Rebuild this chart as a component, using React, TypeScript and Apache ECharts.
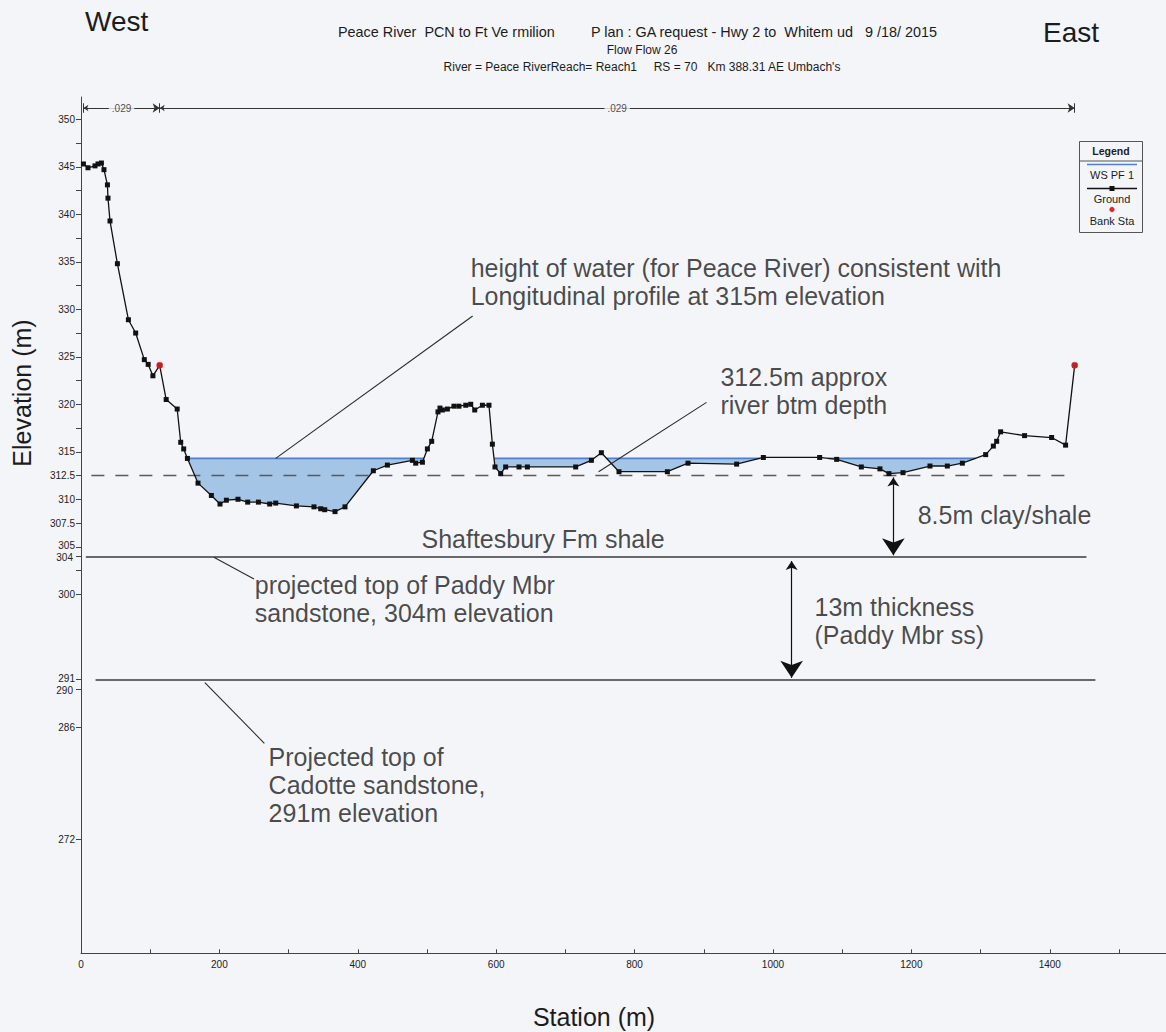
import React, { useEffect, useRef } from "react";
import * as echarts from "echarts";

// ---------- data ----------
const groundStation = [3.5, 10.1, 20.2, 24.6, 29.5, 33.2, 38.2, 39.0, 41.9, 52.6, 68.5, 79.0, 91.5, 97.1, 103.9, 113.7, 123.1, 139.0, 144.1, 148.4, 153.8, 169.1, 188.4, 200.9, 210.1, 226.9, 240.9, 256.4, 272.7, 281.4, 311.3, 336.7, 346.4, 352.2, 367.1, 381.5, 422.5, 442.8, 478.9, 483.7, 493.4, 500.6, 506.8, 515.9, 518.8, 522.3, 529.5, 539.0, 546.2, 556.0, 563.2, 569.0, 580.1, 589.6, 594.5, 598.3, 606.5, 613.7, 633.0, 645.1, 714.9, 737.6, 752.0, 777.5, 847.4, 877.2, 947.5, 986.1, 1067.5, 1092.1, 1127.7, 1154.6, 1167.6, 1187.9, 1226.9, 1252.0, 1273.7, 1307.4, 1318.5, 1323.3, 1329.0, 1363.6, 1402.7, 1422.9, 1436.0];
const groundElev = [345.3, 344.9, 345.1, 345.3, 345.4, 344.7, 343.1, 341.7, 339.3, 334.8, 328.9, 327.5, 324.7, 324.2, 323.0, 324.1, 320.5, 319.5, 316.0, 315.3, 314.3, 311.7, 310.4, 309.5, 309.9, 310.0, 309.7, 309.7, 309.5, 309.6, 309.3, 309.2, 309.0, 308.9, 308.7, 309.2, 313.0, 313.6, 314.1, 313.8, 313.9, 315.3, 316.1, 319.2, 319.6, 319.4, 319.5, 319.8, 319.8, 319.9, 320.0, 319.4, 319.9, 319.9, 315.8, 313.4, 312.7, 313.4, 313.4, 313.4, 313.4, 314.1, 314.9, 312.9, 312.9, 313.8, 313.7, 314.4, 314.4, 314.2, 313.4, 313.2, 312.7, 312.8, 313.5, 313.5, 313.8, 314.7, 315.6, 316.1, 317.1, 316.7, 316.5, 315.7, 324.1];
const bankStation = [113.7, 1436.0];
const bankElev = [324.1, 324.1];
const wsElev = 314.3;
const riverBtmElev = 312.5;
const riverBtmRange = [15, 1433];
const paddyTopElev = 304;
const paddyRange = [7, 1453];
const cadotteTopElev = 291;
const cadotteRange = [21, 1466];
const manningN = [".029", ".029"];
const manningElev = 351.19;

const xLabelValues = [0, 200, 400, 600, 800, 1000, 1200, 1400];
const xTickValues = [100, 200, 300, 400, 500, 600, 700, 800, 900, 1000, 1100, 1200, 1300, 1400, 1500];
const yLabelValues = [350, 345, 340, 335, 330, 325, 320, 315, 312.5, 310, 307.5, 305, 304, 300, 291, 290, 286, 274.2];
const yLabelTexts = ["350", "345", "340", "335", "330", "325", "320", "315", "312.5", "310", "307.5", "305", "304", "300", "291", "290", "286", "272"];
const yLabelsUp = ["305", "291"];
const yLabelsDown = ["304", "290"];
const yMinorTicks = [347.5, 342.5, 337.5, 332.5, 327.5, 322.5, 317.5, 302.5];

const noteTexts = [
  "height of water (for Peace River) consistent with\nLongitudinal profile at 315m elevation",
  "312.5m approx\nriver btm depth",
  "8.5m clay/shale",
  "Shaftesbury Fm shale",
  "projected top of Paddy Mbr\nsandstone, 304m elevation",
  "13m thickness\n(Paddy Mbr ss)",
  "Projected top of\nCadotte sandstone,\n291m elevation",
];
const noteX = [563, 924, 1209, 492, 251, 1060, 271];
const noteY = [332.9, 321.4, 308.35, 305.8, 299.5, 297.2, 279.9];

const leaderLines = [
  [[281.4, 314.3], [566, 329.3]],
  [[904, 320.2], [748, 312.9]],
  [[192, 303.9], [250, 301.6]],
  [[179, 290.7], [265, 284.3]],
];
const thicknessArrows = [
  [[1174, 312.3], [1174, 304.1]],
  [[1027, 303.5], [1027, 291.2]],
];

const titleLine1a = "Peace River  PCN to Ft Ve rmilion";
const titleLine1b = "P lan : GA request - Hwy 2 to  Whitem ud   9 /18/ 2015";
const titleLine2 = "Flow Flow 26";
const titleLine3 = "River = Peace RiverReach= Reach1     RS = 70   Km 388.31 AE Umbach's";

// ---------- styles ----------
const BG = "#f4f5f9";
const FONT = "'Liberation Sans', Arial, Helvetica, sans-serif";
const INK = "#1c1c1c";
const WATER_FILL = "#a5c5e6";
const WS_COLOR = "#4f7fcf";

function computePools(): number[][][] {
  const pools: number[][][] = [];
  let cur: number[][] | null = null;
  for (let i = 0; i < groundStation.length; i++) {
    const x = groundStation[i];
    const y = groundElev[i];
    if (i > 0) {
      const x0 = groundStation[i - 1];
      const y0 = groundElev[i - 1];
      const b0 = y0 < wsElev;
      const b1 = y < wsElev;
      if (b0 !== b1) {
        const t = (wsElev - y0) / (y - y0);
        const xc = x0 + t * (x - x0);
        if (!b0) {
          cur = [[xc, wsElev]];
        } else if (cur) {
          cur.push([xc, wsElev]);
          pools.push(cur);
          cur = null;
        }
      }
    }
    if (y < wsElev && cur) cur.push([x, y]);
  }
  return pools;
}

export default function App() {
  const ref = useRef<HTMLDivElement>(null);

  useEffect(() => {
    if (!ref.current) return;
    const chart = echarts.init(ref.current, undefined, { renderer: "svg" });
    const pools = computePools();
    const groundData = groundStation.map((s, i) => [s, groundElev[i]]);
    const bankData = bankStation.map((s, i) => [s, bankElev[i]]);
    const nBounds = [groundStation[0], bankStation[0], bankStation[1]];

    const option: any = {
      animation: false,
      backgroundColor: BG,
      grid: { left: 81, top: 97, right: 0, bottom: 78.7, containLabel: false },
      xAxis: {
        type: "value",
        min: 0,
        max: 1568,
        splitLine: { show: false },
        axisLine: { show: true, lineStyle: { color: "#444", width: 1 } },
        axisTick: { show: true, inside: true, length: 4, customValues: xTickValues, lineStyle: { color: "#444" } },
        axisLabel: {
          customValues: xLabelValues,
          fontSize: 10,
          fontFamily: FONT,
          color: "#222",
          margin: 6,
          formatter: (v: number) => String(Math.round(v)),
        },
      },
      yAxis: {
        type: "value",
        min: 262.2,
        max: 352.35,
        splitLine: { show: false },
        axisLine: { show: true, lineStyle: { color: "#444", width: 1 } },
        axisTick: {
          show: true,
          length: 5,
          customValues: yLabelValues.concat(yMinorTicks),
          lineStyle: { color: "#444" },
        },
        axisLabel: {
          customValues: yLabelValues,
          fontSize: 10,
          fontFamily: FONT,
          color: "#222",
          margin: 6,
          formatter: (v: number) => {
            let best = 0;
            for (let i = 0; i < yLabelValues.length; i++) {
              if (Math.abs(yLabelValues[i] - v) < Math.abs(yLabelValues[best] - v)) best = i;
            }
            const t = yLabelTexts[best];
            if (yLabelsUp.indexOf(t) >= 0) return "{up|" + t + "}";
            if (yLabelsDown.indexOf(t) >= 0) return "{dn|" + t + "}";
            return t;
          },
          rich: {
            up: { fontSize: 10, fontFamily: FONT, color: "#222", padding: [0, 0, 3, 0] },
            dn: { fontSize: 10, fontFamily: FONT, color: "#222", padding: [3, 2, 0, 0] },
          },
        },
      },
      series: [
        {
          type: "custom",
          name: "WS PF 1",
          coordinateSystem: "cartesian2d",
          silent: true,
          z: 2,
          data: pools.map((p, i) => [p[0][0], p[0][1], i]),
          renderItem: (params: any, api: any) => {
            const pool = pools[params.dataIndex];
            const pts = pool.map((p) => api.coord(p));
            const a = pts[0];
            const b = pts[pts.length - 1];
            return {
              type: "group",
              children: [
                { type: "polygon", shape: { points: pts }, style: { fill: WATER_FILL, stroke: "none" } },
                { type: "line", shape: { x1: a[0], y1: a[1], x2: b[0], y2: b[1] }, style: { stroke: WS_COLOR, lineWidth: 1.6 } },
              ],
            };
          },
        },
        {
          type: "line",
          name: "River btm",
          data: [[riverBtmRange[0], riverBtmElev], [riverBtmRange[1], riverBtmElev]],
          symbol: "none",
          silent: true,
          z: 3,
          lineStyle: { color: "#5a5a5a", width: 1.3, type: [13, 11] },
        },
        {
          type: "line",
          name: "Ground",
          data: groundData,
          symbol: "rect",
          symbolSize: 5,
          silent: true,
          z: 5,
          itemStyle: { color: "#111" },
          lineStyle: { color: "#111", width: 1.3 },
        },
        {
          type: "scatter",
          name: "Bank Sta",
          data: bankData,
          symbol: "circle",
          symbolSize: 7,
          silent: true,
          z: 6,
          itemStyle: { color: "#e8262a" },
        },
        {
          type: "lines",
          coordinateSystem: "cartesian2d",
          silent: true,
          z: 4,
          symbol: "none",
          lineStyle: { color: "#3a3a3a", width: 1.5, opacity: 1 },
          data: [
            { coords: [[paddyRange[0], paddyTopElev], [paddyRange[1], paddyTopElev]] },
            { coords: [[cadotteRange[0], cadotteTopElev], [cadotteRange[1], cadotteTopElev]] },
          ],
        },
        {
          type: "lines",
          coordinateSystem: "cartesian2d",
          silent: true,
          z: 4,
          symbol: "none",
          lineStyle: { color: "#2a2a2a", width: 1.1, opacity: 1 },
          data: leaderLines.map((c) => ({ coords: c })),
        },
        {
          type: "lines",
          coordinateSystem: "cartesian2d",
          silent: true,
          z: 4,
          symbol: ["arrow", "arrow"],
          symbolSize: [9, 17],
          lineStyle: { color: "#111", width: 1.2, opacity: 1 },
          itemStyle: { color: "#111" },
          data: thicknessArrows.map((c) => ({ coords: c })),
        },
        {
          type: "lines",
          coordinateSystem: "cartesian2d",
          silent: true,
          z: 4,
          symbol: ["arrow", "arrow"],
          symbolSize: [5, 7],
          lineStyle: { color: "#333", width: 1, opacity: 1 },
          data: [
            { coords: [[nBounds[0], manningElev], [nBounds[1], manningElev]] },
            { coords: [[nBounds[1], manningElev], [nBounds[2], manningElev]] },
          ],
        },
        {
          type: "lines",
          coordinateSystem: "cartesian2d",
          silent: true,
          z: 4,
          symbol: "none",
          lineStyle: { color: "#333", width: 1, opacity: 1 },
          data: nBounds.map((s) => ({ coords: [[s, manningElev - 0.5], [s, manningElev + 0.5]] })),
        },
        {
          type: "scatter",
          silent: true,
          z: 7,
          symbolSize: 0.1,
          itemStyle: { color: "transparent" },
          data: manningN.map((t, i) => ({
            value: [(nBounds[i] + nBounds[i + 1]) / 2, manningElev],
            label: {
              show: true,
              formatter: t,
              position: "inside",
              fontSize: 10,
              fontFamily: FONT,
              color: "#222",
              backgroundColor: BG,
              padding: [1, 3],
            },
          })),
        },
        {
          type: "scatter",
          silent: true,
          z: 8,
          symbolSize: 0.1,
          itemStyle: { color: "transparent" },
          data: noteTexts.map((t, i) => ({
            value: [noteX[i], noteY[i]],
            label: {
              show: true,
              formatter: t,
              position: "right",
              distance: 0,
              align: "left",
              verticalAlign: "middle",
              fontSize: 25,
              lineHeight: 28,
              fontFamily: FONT,
              color: INK,
            },
          })),
        },
      ],
      graphic: [
        { type: "text", x: 85, y: 21, style: { text: "West", fontSize: 28, fontFamily: FONT, fill: INK, align: "left", verticalAlign: "middle" } },
        { type: "text", x: 1043, y: 32, style: { text: "East", fontSize: 28, fontFamily: FONT, fill: INK, align: "left", verticalAlign: "middle" } },
        { type: "text", x: 338, y: 32, style: { text: titleLine1a, fontSize: 14.4, fontFamily: FONT, fill: INK, align: "left", verticalAlign: "middle" } },
        { type: "text", x: 591, y: 32, style: { text: titleLine1b, fontSize: 14.4, fontFamily: FONT, fill: INK, align: "left", verticalAlign: "middle" } },
        { type: "text", x: 642, y: 50, style: { text: titleLine2, fontSize: 12, fontFamily: FONT, fill: INK, align: "center", verticalAlign: "middle" } },
        { type: "text", x: 642, y: 67, style: { text: titleLine3, fontSize: 12, fontFamily: FONT, fill: INK, align: "center", verticalAlign: "middle" } },
        { type: "text", x: 594, y: 1017, style: { text: "Station (m)", fontSize: 25, fontFamily: FONT, fill: INK, align: "center", verticalAlign: "middle" } },
        { type: "text", x: 22, y: 393, rotation: Math.PI / 2, style: { text: "Elevation (m)", fontSize: 25, fontFamily: FONT, fill: INK, align: "center", verticalAlign: "middle" } },
        // legend box
        { type: "rect", shape: { x: 1079.5, y: 141.5, width: 63, height: 91 }, style: { fill: BG, stroke: "#555", lineWidth: 1 } },
        { type: "line", shape: { x1: 1079.5, y1: 161, x2: 1142.5, y2: 161 }, style: { stroke: "#555", lineWidth: 1 } },
        { type: "text", x: 1111, y: 151, style: { text: "Legend", fontSize: 10.5, fontWeight: "bold", fontFamily: FONT, fill: INK, align: "center", verticalAlign: "middle" } },
        { type: "line", shape: { x1: 1087, y1: 164.5, x2: 1137, y2: 164.5 }, style: { stroke: WS_COLOR, lineWidth: 1.5 } },
        { type: "text", x: 1112, y: 175, style: { text: "WS PF 1", fontSize: 11, fontFamily: FONT, fill: INK, align: "center", verticalAlign: "middle" } },
        { type: "line", shape: { x1: 1087, y1: 188.5, x2: 1137, y2: 188.5 }, style: { stroke: "#111", lineWidth: 1.3 } },
        { type: "rect", shape: { x: 1109.5, y: 186, width: 5, height: 5 }, style: { fill: "#111" } },
        { type: "text", x: 1112, y: 198.5, style: { text: "Ground", fontSize: 11, fontFamily: FONT, fill: INK, align: "center", verticalAlign: "middle" } },
        { type: "circle", shape: { cx: 1112, cy: 209.5, r: 2.6 }, style: { fill: "#e8262a" } },
        { type: "text", x: 1112, y: 221, style: { text: "Bank Sta", fontSize: 11, fontFamily: FONT, fill: INK, align: "center", verticalAlign: "middle" } },
      ],
    };
    chart.setOption(option);
    return () => chart.dispose();
  }, []);

  return (
    <div
      ref={ref}
      style={{ position: "fixed", left: 0, top: 0, width: 1166, height: 1032, background: BG }}
    />
  );
}
